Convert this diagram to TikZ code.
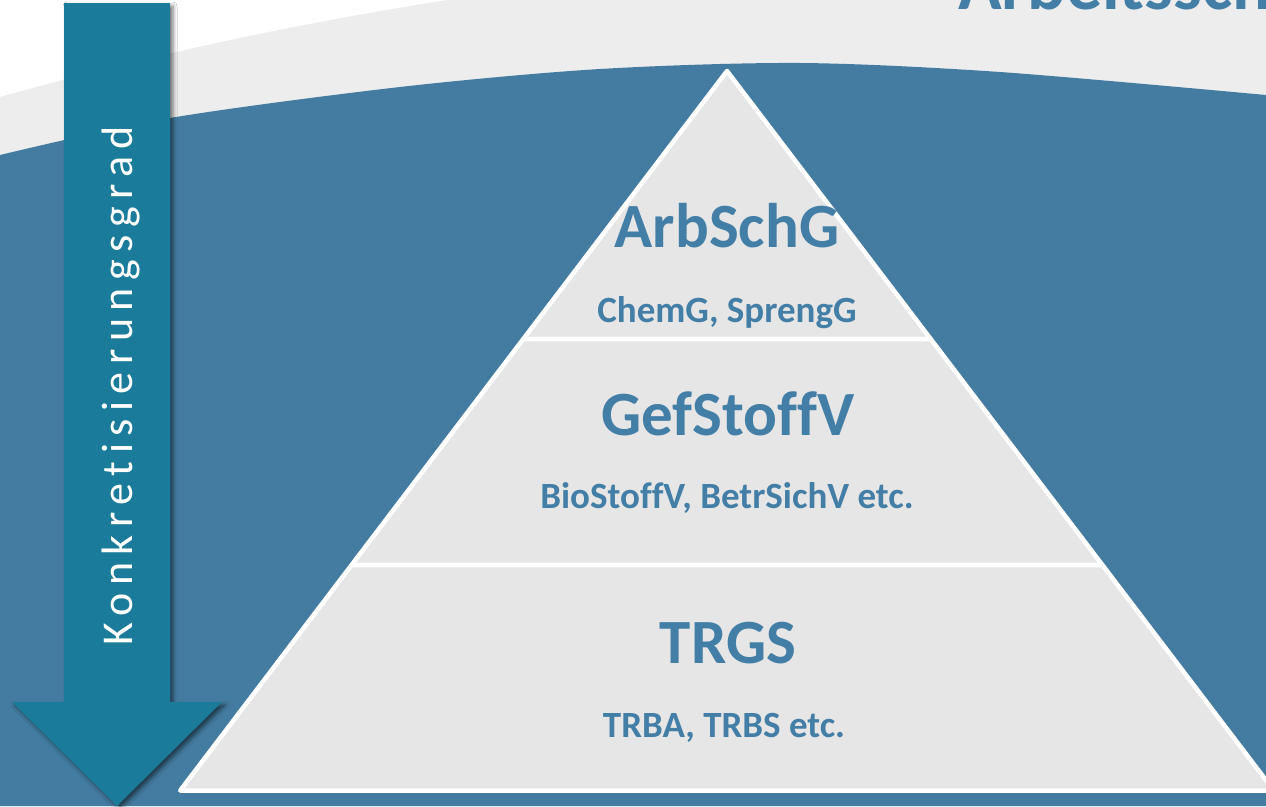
\documentclass[tikz,border=0pt]{standalone}
\usepackage{fontspec}
\setmainfont[Ligatures=NoCommon]{Carlito}
\newfontfamily\spacedfont[LetterSpace=17,Ligatures=NoCommon]{Carlito}
\usetikzlibrary{shadows.blur}

\definecolor{bgblue}{RGB}{68,124,161}
\definecolor{bandgrey}{RGB}{237,237,237}
\definecolor{tierfill}{RGB}{230,230,230}
\definecolor{arrowteal}{RGB}{26,123,154}
\definecolor{labelblue}{RGB}{66,126,166}

\begin{document}
\begin{tikzpicture}[x=1pt,y=-1pt,
  tier/.style={fill=tierfill, draw=white, line width=4.5pt, line join=round},
  mainlabel/.style={font=\bfseries\fontsize{63}{63}\selectfont, text=labelblue, anchor=base, inner sep=0pt},
  sublabel/.style={font=\bfseries\fontsize{37}{37}\selectfont, text=labelblue, anchor=base, inner sep=0pt}]
\useasboundingbox (0,0) rectangle (1266,806);
\clip (0,0) rectangle (1266,806);

% background: white, light grey band, blue field
\fill[white] (0,0) rectangle (1266,806);
\fill[bandgrey] (0,97) .. controls (150,55) and (300,22) .. (480,-5) -- (1266,-5) -- (1266,806) -- (0,806) -- cycle;
\fill[bgblue] plot[smooth] coordinates {(0,155) (170,118) (400,87) (600,69) (800,63) (1000,72) (1266,95)}
  -- (1266,806) -- (0,806) -- cycle;

% heading, running off the top edge
\node[anchor=base west, font=\bfseries\fontsize{72}{72}\selectfont, text=labelblue, inner sep=0pt]
  (title) at (958,9) {Arbeitssch};

% pyramid tiers
\path[tier] (727,71) -- (930.7,339) -- (523.3,339) -- cycle;
\path[tier] (523.3,339) -- (930.7,339) -- (1102.4,565) -- (351.6,565) -- cycle;
\path[tier] (351.6,565) -- (1102.4,565) -- (1273.8,790.5) -- (180.2,790.5) -- cycle;

\node[mainlabel] (arbschg) at (727,247) {ArbSchG};
\node[sublabel] (chemg) at (727,322) {ChemG, SprengG};
\node[mainlabel] (gefstoffv) at (728,435) {GefStoffV};
\node[sublabel] (biostoffv) at (727,508) {BioStoffV, BetrSichV etc.};
\node[mainlabel] (trgs) at (728,663) {TRGS};
\node[sublabel] (trba) at (724,737) {TRBA, TRBS etc.};

% downward arrow
\fill[arrowteal, blur shadow={shadow xshift=3pt, shadow yshift=-3pt, shadow blur radius=4pt, shadow opacity=55}]
  (64,3) -- (170,3) -- (170,702) -- (222,702) -- (117,806) -- (12,702) -- (64,702) -- cycle;
\node[rotate=90, anchor=base, font=\spacedfont\fontsize{44}{44}\selectfont, text=white, inner sep=0pt]
  (grad) at (132,386) {Konkretisierungsgrad};
\end{tikzpicture}
\end{document}
